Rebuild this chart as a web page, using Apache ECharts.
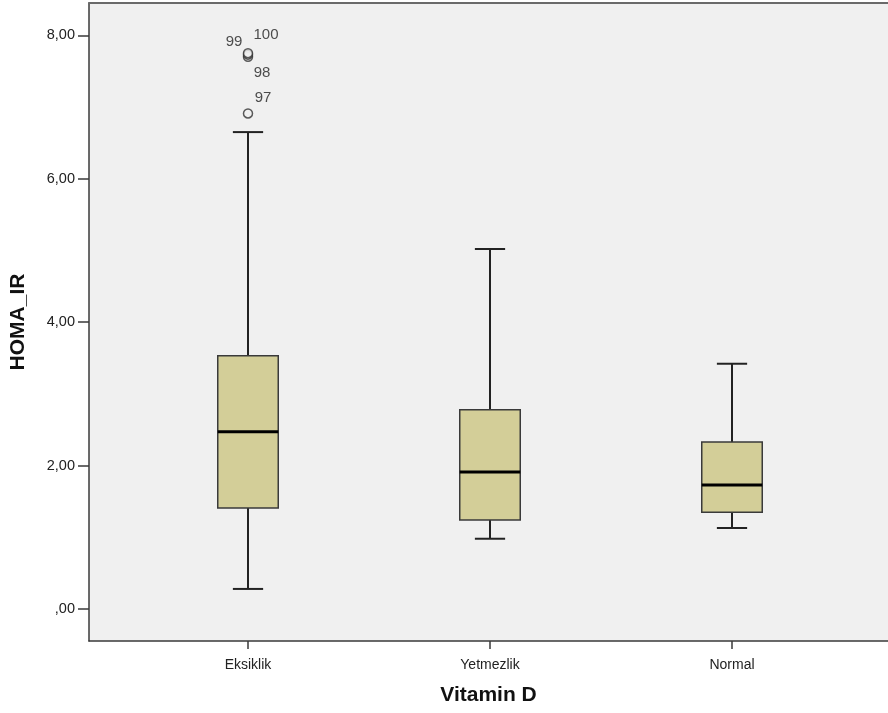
<!DOCTYPE html>
<html>
<head>
<meta charset="utf-8">
<script src="https://cdn.jsdelivr.net/npm/echarts@6/dist/echarts.min.js"></script>
<style>html,body{margin:0;padding:0;background:#fff;}#c{width:888px;height:713px;}</style>
</head>
<body>
<div id="c"></div>
<script>
var categories = ['Eksiklik', 'Yetmezlik', 'Normal'];
var whiskerLow = [0.28, 0.98, 1.13];
var q1 = [1.41, 1.24, 1.35];
var median = [2.47, 1.91, 1.73];
var q3 = [3.53, 2.78, 2.33];
var whiskerHigh = [6.65, 5.02, 3.42];
var outlierCat = [0, 0, 0, 0];
var outlierValues = [6.91, 7.70, 7.73, 7.75];
var outlierIds = ['97', '98', '99', '100'];
var yTicks = [0, 2, 4, 6, 8];

var labelOffsets = {'97': [15, -16], '98': [14, 16], '99': [-14, -13], '100': [18, -18]};

var boxData = categories.map(function (c, i) {
  return [i, whiskerLow[i], q1[i], median[i], q3[i], whiskerHigh[i]];
});
var outData = outlierValues.map(function (v, i) {
  return {
    value: [outlierCat[i], v],
    label: {show: true, formatter: outlierIds[i], offset: labelOffsets[outlierIds[i]], position: 'inside'}
  };
});

var YMIN = -0.446, YMAX = 8.45;
var chart = echarts.init(document.getElementById('c'));
chart.setOption({
  backgroundColor: '#ffffff',
  animation: false,
  grid: [
    {left: 88, top: 3, right: -10, bottom: 72, show: true, backgroundColor: '#f0f0f0', borderColor: 'transparent', borderWidth: 0},
    {left: 127, top: 3, width: 726, bottom: 72}
  ],
  xAxis: [
    {type: 'value', gridIndex: 0, min: 0, max: 1, axisLine: {show: true, onZero: false, lineStyle: {color: '#3a3a3a', width: 1.5}},
     axisTick: {show: false}, axisLabel: {show: false}, splitLine: {show: false},
     name: 'Vitamin D', nameLocation: 'middle', nameGap: 44,
     nameTextStyle: {fontFamily: 'Liberation Sans', fontWeight: 'bold', fontSize: 21, color: '#111'}},
    {type: 'category', gridIndex: 1, data: categories, boundaryGap: true, position: 'bottom',
     axisLine: {show: false, onZero: false}, axisTick: {show: true, alignWithLabel: true, length: 8, lineStyle: {color: '#3a3a3a', width: 1.5}},
     axisLabel: {margin: 17, fontFamily: 'Liberation Sans', fontSize: 14, color: '#222'}, splitLine: {show: false}},
    {type: 'value', gridIndex: 0, min: 0, max: 1, position: 'top',
     axisLine: {show: true, onZero: false, lineStyle: {color: '#6a6a6a', width: 2}},
     axisTick: {show: false}, axisLabel: {show: false}, splitLine: {show: false}}
  ],
  yAxis: [
    {type: 'value', gridIndex: 0, min: YMIN, max: YMAX,
     axisLine: {show: true, lineStyle: {color: '#3a3a3a', width: 1.5}},
     axisTick: {show: true, length: 11, customValues: yTicks, lineStyle: {color: '#3a3a3a', width: 1.5}},
     axisLabel: {customValues: yTicks, margin: 14, fontFamily: 'Liberation Sans', fontSize: 14.5, color: '#222',
       formatter: function (v) { return v === 0 ? ',00' : v.toFixed(2).replace('.', ','); }},
     splitLine: {show: false},
     name: 'HOMA_IR', nameLocation: 'middle', nameGap: 60, nameRotate: 90,
     nameTextStyle: {fontFamily: 'Liberation Sans', fontWeight: 'bold', fontSize: 21, color: '#111'}},
    {type: 'value', gridIndex: 1, min: YMIN, max: YMAX, show: false}
  ],
  series: [
    {
      type: 'custom', xAxisIndex: 1, yAxisIndex: 1, data: boxData, z: 3,
      renderItem: function (params, api) {
        var x = api.value(0);
        var pLow = api.coord([x, api.value(1)]);
        var pQ1 = api.coord([x, api.value(2)]);
        var pMed = api.coord([x, api.value(3)]);
        var pQ3 = api.coord([x, api.value(4)]);
        var pHigh = api.coord([x, api.value(5)]);
        var band = api.size([1, 0])[0];
        var bw = band * 0.25;
        var cw = bw * 0.5;
        var cx = pQ1[0];
        var lineStyle = {stroke: '#222', lineWidth: 2};
        return {
          type: 'group',
          children: [
            {type: 'line', shape: {x1: cx, y1: pQ3[1], x2: cx, y2: pHigh[1]}, style: lineStyle},
            {type: 'line', shape: {x1: cx, y1: pQ1[1], x2: cx, y2: pLow[1]}, style: lineStyle},
            {type: 'line', shape: {x1: cx - cw / 2, y1: pHigh[1], x2: cx + cw / 2, y2: pHigh[1]}, style: lineStyle},
            {type: 'line', shape: {x1: cx - cw / 2, y1: pLow[1], x2: cx + cw / 2, y2: pLow[1]}, style: lineStyle},
            {type: 'rect', shape: {x: cx - bw / 2, y: pQ3[1], width: bw, height: pQ1[1] - pQ3[1]},
             style: {fill: '#d3ce98', stroke: '#3a3a3a', lineWidth: 1.5}},
            {type: 'line', shape: {x1: cx - bw / 2, y1: pMed[1], x2: cx + bw / 2, y2: pMed[1]}, style: {stroke: '#000', lineWidth: 3}}
          ]
        };
      }
    },
    {
      type: 'scatter', xAxisIndex: 1, yAxisIndex: 1, data: outData, z: 4,
      symbol: 'circle', symbolSize: 9,
      itemStyle: {color: '#f0f0f0', borderColor: '#333', borderWidth: 1.5},
      label: {fontFamily: 'Liberation Sans', fontSize: 15, color: '#222'}
    }
  ]
});
</script>
</body>
</html>
